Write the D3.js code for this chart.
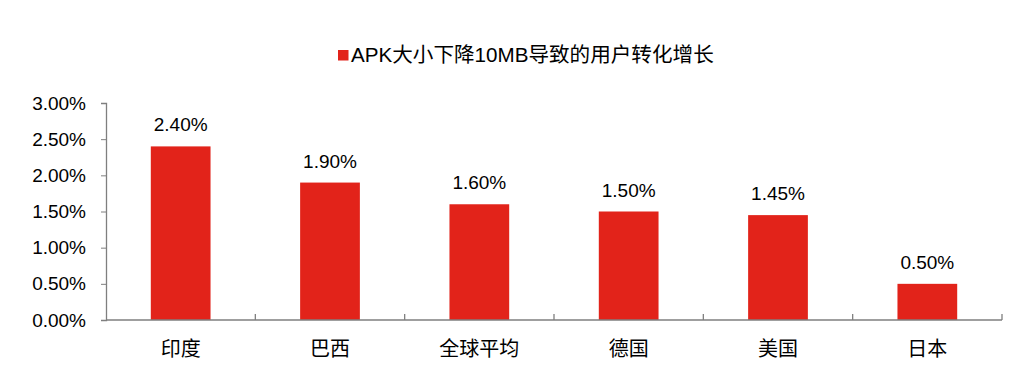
<!DOCTYPE html>
<html>
<head>
<meta charset="utf-8">
<script src="https://cdn.jsdelivr.net/npm/d3@7"></script>
<style>
  body { margin: 0; background: #fff; }
  text { font-family: "Liberation Sans", Arial, "Noto Sans CJK SC", sans-serif; fill: #000; }
</style>
</head>
<body>
<div id="viz"></div>
<script>
const categories = ["印度", "巴西", "全球平均", "德国", "美国", "日本"];
const values = [0.024, 0.019, 0.016, 0.015, 0.0145, 0.005];
const yTicks = [0, 0.005, 0.01, 0.015, 0.02, 0.025, 0.03];
const seriesName = "APK大小下降10MB导致的用户转化增长";

const width = 1030, height = 387;
const margin = {left: 106, right: 28, top: 103, bottom: 67};
const barColor = "#e2231a";
const axisColor = "#7f7f7f";

const svg = d3.select("#viz").append("svg")
  .attr("width", width)
  .attr("height", height);

const x = d3.scaleBand()
  .domain(categories)
  .range([margin.left, width - margin.right])
  .paddingInner(0.6)
  .paddingOuter(0.3);

const xEdges = d3.scaleLinear()
  .domain([0, categories.length])
  .range([margin.left, width - margin.right]);

const y = d3.scaleLinear()
  .domain([0, 0.03])
  .range([height - margin.bottom, margin.top]);

const fmt = d3.format(".2%");

// y axis
const yAxis = svg.append("g")
  .attr("transform", `translate(${margin.left},0)`)
  .call(d3.axisLeft(y).tickValues(yTicks).tickFormat(fmt).tickSize(5).tickPadding(15));
yAxis.select(".domain").attr("stroke", axisColor).attr("stroke-width", 1.3);
yAxis.selectAll(".tick line").attr("stroke", axisColor);
yAxis.selectAll(".tick text").style("font-size", "19px").attr("fill", "#000");

// bars
svg.append("g")
  .selectAll("rect")
  .data(values)
  .join("rect")
  .attr("x", (d, i) => x(categories[i]))
  .attr("y", d => y(d))
  .attr("width", x.bandwidth())
  .attr("height", d => y(0) - y(d))
  .attr("fill", barColor);

// x axis
const xg = svg.append("g");
xg.append("line")
  .attr("x1", margin.left).attr("x2", width - margin.right)
  .attr("y1", y(0)).attr("y2", y(0))
  .attr("stroke", axisColor).attr("stroke-width", 1.6);
xg.selectAll(".xtick")
  .data(d3.range(1, categories.length + 1))
  .join("line")
  .attr("x1", d => xEdges(d)).attr("x2", d => xEdges(d))
  .attr("y1", y(0)).attr("y2", y(0) - 6)
  .attr("stroke", axisColor).attr("stroke-width", 1.3);
xg.selectAll("text")
  .data(categories)
  .join("text")
  .attr("x", d => x(d) + x.bandwidth() / 2)
  .attr("y", y(0) + 36)
  .attr("text-anchor", "middle")
  .style("font-size", "20px")
  .text(d => d);

// value labels
svg.append("g")
  .selectAll("text")
  .data(values)
  .join("text")
  .attr("x", (d, i) => x(categories[i]) + x.bandwidth() / 2)
  .attr("y", d => y(d) - 15)
  .attr("text-anchor", "middle")
  .style("font-size", "19px")
  .text(d => fmt(d));

// legend
const lg = svg.append("g").attr("transform", "translate(338,50)");
lg.append("rect").attr("width", 10.5).attr("height", 10.5).attr("fill", barColor);
lg.append("text")
  .attr("x", 13)
  .attr("y", 11.5)
  .style("font-size", "20.6px")
  .text(seriesName);
</script>
</body>
</html>
